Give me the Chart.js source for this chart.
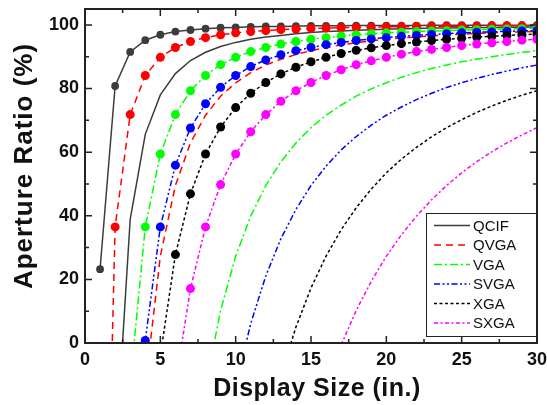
<!DOCTYPE html>
<html>
<head>
<meta charset="utf-8">
<title>Aperture Ratio vs Display Size</title>
<script src="https://cdn.jsdelivr.net/npm/chart.js@4.4.1/dist/chart.umd.min.js"></script>
<style>
  html, body { margin: 0; padding: 0; background: #fff; }
  #wrap { width: 547px; height: 405px; }
</style>
</head>
<body>
<div id="wrap"><canvas id="arChart" width="547" height="405"></canvas></div>
<script>
'use strict';

// display diagonal (in.)
const displaySize = [1, 2, 3, 4, 5, 6, 7, 8, 9, 10, 11, 12, 13, 14, 15,
                     16, 17, 18, 19, 20, 21, 22, 23, 24, 25, 26, 27, 28, 29, 30];

// aperture ratio (%), curves drawn with dots
const qcifDots = [23.2, 80.8, 91.5, 95.2, 96.9, 97.9, 98.4, 98.8, 99.1, 99.2, 99.4, 99.5, 99.5, 99.6, 99.7,
                  99.7, 99.7, 99.8, 99.8, 99.8, 99.8, 99.8, 99.9, 99.9, 99.9, 99.9, 99.9, 99.9, 99.9, 99.9];
const qvgaDots = [-154, 36.5, 71.8, 84.1, 89.8, 92.9, 94.8, 96.0, 96.9, 97.5, 97.9, 98.2, 98.5, 98.7, 98.9,
                  99.0, 99.1, 99.2, 99.3, 99.4, 99.4, 99.5, 99.5, 99.6, 99.6, 99.6, 99.7, 99.7, 99.7, 99.7];
const vgaDots  = [null, null, -12.9, 36.5, 59.4, 71.8, 79.3, 84.1, 87.5, 89.8, 91.6, 92.9, 94.0, 94.8, 95.5,
                  96.0, 96.5, 96.9, 97.2, 97.5, 97.7, 97.9, 98.1, 98.2, 98.4, 98.5, 98.6, 98.7, 98.8, 98.9];
const svgaDots = [null, null, -76.4, 0.8, 36.5, 55.9, 67.6, 75.2, 80.4, 84.1, 86.9, 89.0, 90.6, 91.9, 92.9,
                  93.8, 94.5, 95.1, 95.6, 96.0, 96.4, 96.7, 97.0, 97.2, 97.5, 97.7, 97.8, 98.0, 98.1, 98.2];
const xgaDots  = [null, null, null, -62.6, -4.0, 27.8, 46.9, 59.4, 67.9, 74.0, 78.5, 81.9, 84.6, 86.7, 88.4,
                  89.8, 91.0, 92.0, 92.8, 93.5, 94.1, 94.6, 95.1, 95.5, 95.8, 96.2, 96.4, 96.7, 96.9, 97.1];
const sxgaDots = [null, null, null, null, -62.6, -12.9, 17.1, 36.5, 49.8, 59.4, 66.4, 71.8, 76.0, 79.3, 81.9,
                  84.1, 85.9, 87.5, 88.7, 89.8, 90.8, 91.6, 92.3, 92.9, 93.5, 94.0, 94.4, 94.8, 95.2, 95.5];

// aperture ratio (%), plain curves (these carry the legend)
const qcifCurve = [null, -37.5, 38.9, 65.6, 78.0, 84.7, 88.8, 91.4, 93.2, 94.5, 95.5, 96.2, 96.7, 97.2, 97.6,
                   97.9, 98.1, 98.3, 98.5, 98.6, 98.8, 98.9, 99.0, 99.0, 99.1, 99.2, 99.2, 99.3, 99.3, 99.4];
const qvgaCurve = [null, null, null, -13.6, 27.3, 49.5, 62.9, 71.6, 77.6, 81.8, 85.0, 87.4, 89.2, 90.7, 91.9,
                   92.9, 93.7, 94.4, 95.0, 95.5, 95.9, 96.2, 96.6, 96.8, 97.1, 97.3, 97.5, 97.7, 97.8, 98.0];
const vgaCurve  = [null, null, null, null, null, null, null, -13.6, 10.2, 27.3, 39.9, 49.5, 57.0, 62.9, 67.7,
                   71.6, 74.8, 77.6, 79.9, 81.8, 83.5, 85.0, 86.3, 87.4, 88.4, 89.2, 90.0, 90.7, 91.4, 91.9];
const svgaCurve = [null, null, null, null, null, null, null, null, null, -13.6, 6.1, 21.1, 32.8, 42.0, 49.5,
                   55.6, 60.7, 64.9, 68.5, 71.6, 74.2, 76.5, 78.5, 80.3, 81.8, 83.2, 84.4, 85.5, 86.5, 87.4];
const xgaCurve  = [null, null, null, null, null, null, null, null, null, null, null, null, -10.2, 5.0, 17.3,
                   27.3, 35.6, 42.5, 48.4, 53.5, 57.8, 61.5, 64.8, 67.7, 70.2, 72.5, 74.5, 76.3, 77.9, 79.3];
const sxgaCurve = [null, null, null, null, null, null, null, null, null, null, null, null, null, null, null,
                   null, -0.65, 10.2, 19.4, 27.3, 34.0, 39.9, 45.0, 49.5, 53.5, 57.0, 60.1, 62.9, 65.4, 67.7];

const formats = ['QCIF', 'QVGA', 'VGA', 'SVGA', 'XGA', 'SXGA'];
const dotSeries = [qcifDots, qvgaDots, vgaDots, svgaDots, xgaDots, sxgaDots];
const curveSeries = [qcifCurve, qvgaCurve, vgaCurve, svgaCurve, xgaCurve, sxgaCurve];

const xTicks = [0, 5, 10, 15, 20, 25, 30];
const yTicks = [0, 20, 40, 60, 80, 100];

// line colour and dash per format
const lineStyles = {
    QCIF: { color: '#3c3c3c', dash: [] },
    QVGA: { color: '#ff0000', dash: [7, 5] },
    VGA:  { color: '#00ff00', dash: [8, 3, 2, 3] },
    SVGA: { color: '#0000ff', dash: [6, 2.5, 2, 2.5, 2, 2.5] },
    XGA:  { color: '#000000', dash: [3, 2.5] },
    SXGA: { color: '#ff00ff', dash: [4, 2.5, 2, 2.5] }
};

const FONT = '"Liberation Sans", Arial, Helvetica, sans-serif';

function toPoints(values) {
    return displaySize.map(function(x, i) {
        return { x: x, y: values[i] };
    });
}

function buildDatasets() {
    const sets = [];
    // plain curves go underneath
    formats.forEach(function(name, i) {
        const st = lineStyles[name];
        sets.push({
            label: name,
            inLegend: true,
            data: toPoints(curveSeries[i]),
            borderColor: st.color,
            borderDash: st.dash,
            borderWidth: 1.5,
            pointRadius: 0,
            tension: 0
        });
    });
    // dotted curves, later formats on top
    formats.forEach(function(name, i) {
        const st = lineStyles[name];
        sets.push({
            label: name + ' (dots)',
            data: toPoints(dotSeries[i]),
            borderColor: st.color,
            borderDash: st.dash,
            borderWidth: 1.5,
            pointRadius: name === 'QCIF' ? 3.9 : 4.5,
            pointBackgroundColor: st.color,
            pointBorderWidth: 0,
            tension: 0
        });
    });
    sets.forEach(function(ds, i) {
        ds.order = sets.length - i;
    });
    return sets;
}

// box frame with inward ticks on all four sides, plus axis titles
const axisFrame = {
    id: 'axisFrame',
    afterDatasetsDraw: function(chart) {
        const ctx = chart.ctx;
        const a = chart.chartArea;
        const xs = chart.scales.x;
        const ys = chart.scales.y;

        ctx.save();
        ctx.strokeStyle = '#222';
        ctx.lineWidth = 1.5;
        ctx.beginPath();
        for (let v = 0; v <= 30; v += 2.5) {
            const px = xs.getPixelForValue(v);
            const len = v % 5 === 0 ? 7 : 4;
            ctx.moveTo(px, a.bottom); ctx.lineTo(px, a.bottom - len);
            ctx.moveTo(px, a.top); ctx.lineTo(px, a.top + len);
        }
        for (let v = 0; v <= 100; v += 10) {
            const py = ys.getPixelForValue(v);
            const len = v % 20 === 0 ? 7 : 4;
            ctx.moveTo(a.left, py); ctx.lineTo(a.left + len, py);
            ctx.moveTo(a.right, py); ctx.lineTo(a.right - len, py);
        }
        ctx.stroke();

        ctx.lineWidth = 2;
        ctx.strokeRect(a.left, a.top, a.right - a.left, a.bottom - a.top);

        // axis titles
        ctx.fillStyle = '#111';
        ctx.textAlign = 'center';
        ctx.textBaseline = 'middle';
        ctx.font = 'bold 25px ' + FONT;
        ctx.letterSpacing = '0.5px';
        ctx.fillText('Display Size (in.)', (a.left + a.right) / 2 + 6, 389);

        ctx.font = 'bold 26px ' + FONT;
        ctx.letterSpacing = '1px';
        ctx.translate(25, (a.top + a.bottom) / 2 - 10);
        ctx.rotate(-Math.PI / 2);
        ctx.fillText('Aperture Ratio (%)', 0, 0);
        ctx.restore();
    }
};

// legend box in the lower right corner of the plot
const cornerLegend = {
    id: 'cornerLegend',
    afterDraw: function(chart) {
        const ctx = chart.ctx;
        const a = chart.chartArea;
        const items = chart.data.datasets.filter(function(ds) { return ds.inLegend; });

        const boxW = 110;
        const boxH = 123;
        const left = a.right - boxW - 1;
        const top = a.bottom - boxH - 7;

        ctx.save();
        ctx.fillStyle = '#fff';
        ctx.fillRect(left, top, boxW, boxH);
        ctx.strokeStyle = '#222';
        ctx.lineWidth = 1;
        ctx.strokeRect(left + 0.5, top + 0.5, boxW, boxH);

        ctx.font = '15px ' + FONT;
        ctx.textAlign = 'left';
        ctx.textBaseline = 'middle';
        items.forEach(function(ds, i) {
            const y = top + 12.5 + i * 19.5;
            ctx.beginPath();
            ctx.setLineDash(ds.borderDash);
            ctx.strokeStyle = ds.borderColor;
            ctx.lineWidth = 1.5;
            ctx.moveTo(left + 8, y);
            ctx.lineTo(left + 44, y);
            ctx.stroke();
            ctx.setLineDash([]);
            ctx.fillStyle = '#111';
            ctx.fillText(ds.label, left + 47, y + 1);
        });
        ctx.restore();
    }
};

new Chart(document.getElementById('arChart'), {
    type: 'line',
    data: { datasets: buildDatasets() },
    options: {
        responsive: false,
        animation: false,
        devicePixelRatio: 1,
        layout: { padding: { top: 9, right: 10, left: 0, bottom: 0 } },
        plugins: {
            legend: { display: false },
            tooltip: { enabled: false }
        },
        scales: {
            x: {
                type: 'linear',
                min: 0,
                max: 30,
                grid: { display: false, drawTicks: false },
                border: { display: false },
                afterBuildTicks: function(scale) {
                    scale.ticks = xTicks.map(function(v) { return { value: v }; });
                },
                afterFit: function(scale) {
                    scale.height = 62;
                    scale.paddingLeft = 0;
                    scale.paddingRight = 0;
                },
                ticks: {
                    padding: 6,
                    color: '#111',
                    font: { family: FONT, size: 18, weight: 'bold' },
                    maxRotation: 0
                }
            },
            y: {
                type: 'linear',
                min: 0,
                max: 105,
                grid: { display: false, drawTicks: false },
                border: { display: false },
                afterBuildTicks: function(scale) {
                    scale.ticks = yTicks.map(function(v) { return { value: v }; });
                },
                afterFit: function(scale) {
                    scale.width = 85;
                    scale.paddingTop = 0;
                    scale.paddingBottom = 0;
                },
                ticks: {
                    padding: 6,
                    color: '#111',
                    font: { family: FONT, size: 18, weight: 'bold' }
                }
            }
        }
    },
    plugins: [axisFrame, cornerLegend]
});
</script>
</body>
</html>
